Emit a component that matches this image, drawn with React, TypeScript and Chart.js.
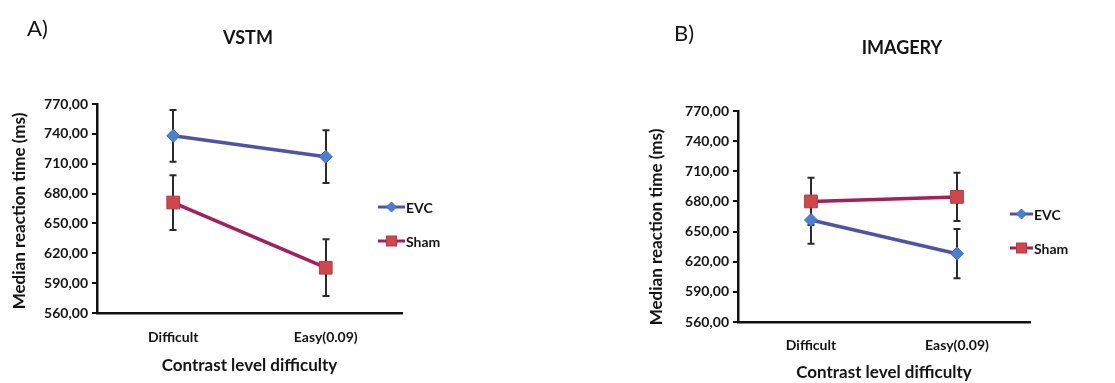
import React, { useEffect, useRef } from "react";
import { Chart, registerables } from "chart.js";

Chart.register(...registerables);

const categories = ["Difficult", "Easy(0.09)"];
const yTicks = [560, 590, 620, 650, 680, 710, 740, 770];

const vstmEvc = [738, 717];
const vstmEvcErr = [26, 26.5];
const vstmSham = [671, 605.5];
const vstmShamErr = [27.5, 28.5];

const imageryEvc = [661.5, 628];
const imageryEvcErr = [23.5, 24.5];
const imagerySham = [680, 684.5];
const imageryShamErr = [23.5, 24];

const seriesNames = ["EVC", "Sham"];
const yTitle = "Median reaction time (ms)";
const xTitle = "Contrast level difficulty";

const EVC_LINE = "#5252a2";
const EVC_MARK = "#4a80cf";
const SHAM_LINE = "#a3205a";
const SHAM_MARK = "#d0474a";
const FONT = "Lato, 'Open Sans', sans-serif";

type Panel = {
  label: string;
  title: string;
  evc: number[];
  evcErr: number[];
  sham: number[];
  shamErr: number[];
  width: number;
  area: { left: number; right: number; top: number; bottom: number };
  labelPos: [number, number];
  titlePos: [number, number];
  yTitlePos: [number, number];
  xTitleY: number;
  legend: { x1: number; x2: number; y1: number; y2: number };
  tickPad: number;
};

const H = 383;

const panels: Panel[] = [
  {
    label: "A)",
    title: "VSTM",
    evc: vstmEvc,
    evcErr: vstmEvcErr,
    sham: vstmSham,
    shamErr: vstmShamErr,
    width: 557,
    area: { left: 97, right: 402, top: 104, bottom: 313 },
    labelPos: [27, 29],
    titlePos: [248, 38],
    yTitlePos: [20, 211],
    xTitleY: 366,
    legend: { x1: 378, x2: 405, y1: 207, y2: 241 },
    tickPad: 16,
  },
  {
    label: "B)",
    title: "IMAGERY",
    evc: imageryEvc,
    evcErr: imageryEvcErr,
    sham: imagerySham,
    shamErr: imageryShamErr,
    width: 558,
    area: { left: 181, right: 473, top: 111, bottom: 322 },
    labelPos: [117, 34],
    titlePos: [345, 48],
    yTitlePos: [100, 227],
    xTitleY: 373,
    legend: { x1: 453, x2: 476, y1: 214, y2: 248 },
    tickPad: 15,
  },
];

function drawMarker(ctx: CanvasRenderingContext2D, kind: string, x: number, y: number) {
  ctx.save();
  if (kind === "diamond") {
    const r = 5;
    ctx.beginPath();
    ctx.moveTo(x, y - r);
    ctx.lineTo(x + r, y);
    ctx.lineTo(x, y + r);
    ctx.lineTo(x - r, y);
    ctx.closePath();
    ctx.fillStyle = EVC_MARK;
    ctx.fill();
    ctx.strokeStyle = "#3f6fb8";
    ctx.lineWidth = 1;
    ctx.stroke();
  } else {
    const s = 5;
    ctx.fillStyle = SHAM_MARK;
    ctx.fillRect(x - s, y - s, 2 * s, 2 * s);
    ctx.strokeStyle = "#b23a46";
    ctx.lineWidth = 1;
    ctx.strokeRect(x - s, y - s, 2 * s, 2 * s);
  }
  ctx.restore();
}

function makePlugin(p: Panel) {
  return {
    id: "panelDecor",
    beforeDatasetsDraw(chart: any) {
      const ctx = chart.ctx as CanvasRenderingContext2D;
      const ys = chart.scales.y;
      const errs = [p.evcErr, p.shamErr];
      const vals = [p.evc, p.sham];
      ctx.save();
      ctx.strokeStyle = "#2b2b2b";
      ctx.lineWidth = 2;
      chart.data.datasets.forEach((_d: any, i: number) => {
        const meta = chart.getDatasetMeta(i);
        meta.data.forEach((pt: any, j: number) => {
          const top = ys.getPixelForValue(vals[i][j] + errs[i][j]);
          const bot = ys.getPixelForValue(vals[i][j] - errs[i][j]);
          const x = Math.round(pt.x);
          ctx.beginPath();
          ctx.moveTo(x, top);
          ctx.lineTo(x, bot);
          ctx.moveTo(x - 3.5, top);
          ctx.lineTo(x + 3.5, top);
          ctx.moveTo(x - 3.5, bot);
          ctx.lineTo(x + 3.5, bot);
          ctx.stroke();
        });
      });
      ctx.restore();
    },
    afterDraw(chart: any) {
      const ctx = chart.ctx as CanvasRenderingContext2D;
      const area = chart.chartArea;
      ctx.save();
      ctx.fillStyle = "#141414";
      ctx.textBaseline = "middle";
      // panel label
      ctx.textAlign = "left";
      ctx.font = `400 22px ${FONT}`;
      ctx.fillText(p.label, p.labelPos[0], p.labelPos[1]);
      // title
      ctx.textAlign = "center";
      ctx.font = `700 18px ${FONT}`;
      ctx.fillText(p.title, p.titlePos[0], p.titlePos[1]);
      // x title
      ctx.font = `700 17px ${FONT}`;
      ctx.fillText(xTitle, (area.left + area.right) / 2, p.xTitleY);
      // y title
      ctx.save();
      ctx.translate(p.yTitlePos[0], p.yTitlePos[1]);
      ctx.rotate(-Math.PI / 2);
      ctx.font = `700 17px ${FONT}`;
      ctx.fillText(yTitle, 0, 0);
      ctx.restore();
      // legend
      const L = p.legend;
      const items = [
        { y: L.y1, color: EVC_LINE, kind: "diamond", name: seriesNames[0] },
        { y: L.y2, color: SHAM_LINE, kind: "square", name: seriesNames[1] },
      ];
      items.forEach((it) => {
        ctx.strokeStyle = it.color;
        ctx.lineWidth = 3;
        ctx.beginPath();
        ctx.moveTo(L.x1, it.y);
        ctx.lineTo(L.x2, it.y);
        ctx.stroke();
        drawMarker(ctx, it.kind, (L.x1 + L.x2) / 2, it.y);
        ctx.fillStyle = "#141414";
        ctx.textAlign = "left";
        ctx.font = `700 14px ${FONT}`;
        ctx.fillText(it.name, L.x2 + 1, it.y + 1);
      });
      ctx.restore();
    },
  };
}

function PanelChart({ p, left }: { p: Panel; left: number }) {
  const ref = useRef<HTMLCanvasElement | null>(null);
  useEffect(() => {
    if (!ref.current) return;
    const a = p.area;
    const chart = new Chart(ref.current, {
      type: "line",
      data: {
        labels: categories,
        datasets: [
          {
            label: seriesNames[0],
            data: p.evc,
            borderColor: EVC_LINE,
            borderWidth: 3.5,
            backgroundColor: EVC_MARK,
            pointStyle: "rectRot",
            pointRadius: 6.5,
            pointBorderColor: "#3f6fb8",
            pointBorderWidth: 1,
            pointBackgroundColor: EVC_MARK,
            tension: 0,
          },
          {
            label: seriesNames[1],
            data: p.sham,
            borderColor: SHAM_LINE,
            borderWidth: 3.5,
            backgroundColor: SHAM_MARK,
            pointStyle: "rect",
            pointRadius: 9,
            pointBorderColor: "#b23a46",
            pointBorderWidth: 1,
            pointBackgroundColor: SHAM_MARK,
            tension: 0,
          },
        ],
      },
      options: {
        responsive: false,
        animation: false,
        devicePixelRatio: 1,
        layout: {
          padding: { left: 0, top: a.top, right: p.width - a.right, bottom: 0 },
        },
        plugins: {
          legend: { display: false },
          title: { display: false },
          tooltip: { enabled: false },
        },
        scales: {
          x: {
            type: "category",
            offset: true,
            grid: { display: true, drawOnChartArea: false, drawTicks: false },
            border: { display: true, color: "#111", width: 2.5 },
            ticks: {
              padding: p.tickPad,
              color: "#141414",
              font: { family: FONT, size: 14, weight: "bold" },
              maxRotation: 0,
            },
            afterFit: (s: any) => {
              s.height = H - a.bottom;
            },
          },
          y: {
            type: "linear",
            min: yTicks[0],
            max: yTicks[yTicks.length - 1],
            grid: {
              display: true,
              drawOnChartArea: false,
              drawTicks: true,
              tickLength: 5,
              color: "#111",
              lineWidth: 2,
            },
            border: { display: true, color: "#111", width: 2.5 },
            afterBuildTicks: (s: any) => {
              s.ticks = yTicks.map((v) => ({ value: v }));
            },
            ticks: {
              padding: 4,
              color: "#141414",
              font: { family: FONT, size: 14, weight: "bold" },
              callback: (v: any) => Number(v).toFixed(2).replace(".", ","),
            },
            afterFit: (s: any) => {
              s.width = a.left;
            },
          },
        },
      },
      plugins: [makePlugin(p)],
    } as any);
    return () => chart.destroy();
  }, [p]);
  return (
    <canvas
      ref={ref}
      width={p.width}
      height={H}
      style={{ position: "absolute", left, top: 0, width: p.width, height: H, display: "block" }}
    />
  );
}

export default function App() {
  return (
    <div style={{ position: "fixed", left: 0, top: 0, width: 1115, height: H, background: "#fff", overflow: "hidden" }}>
      <PanelChart p={panels[0]} left={0} />
      <PanelChart p={panels[1]} left={557} />
    </div>
  );
}
